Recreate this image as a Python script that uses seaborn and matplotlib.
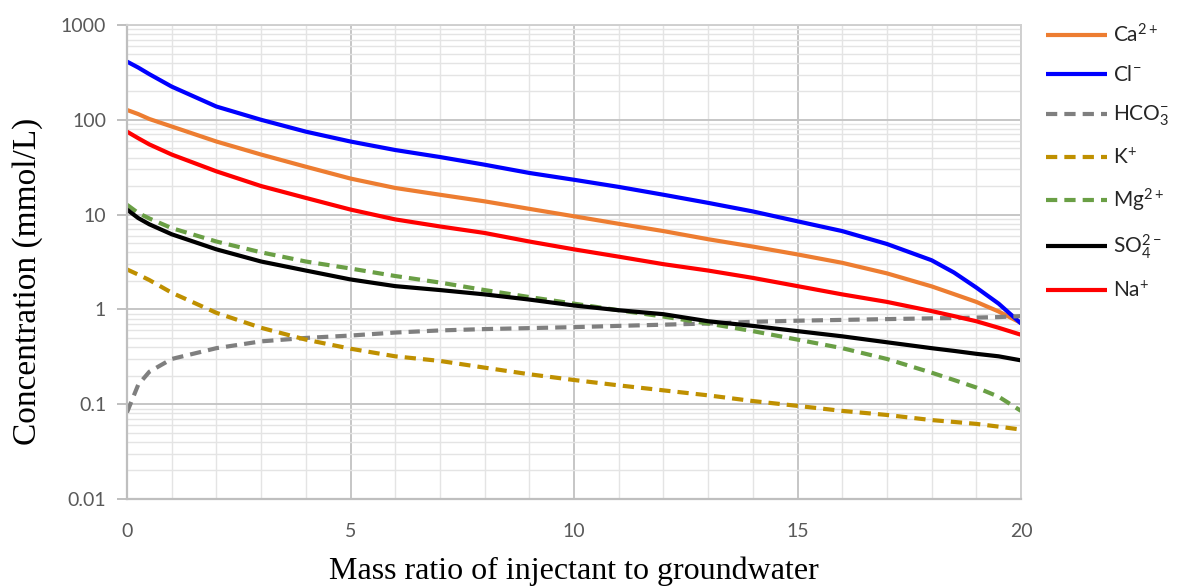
import numpy as np
import pandas as pd
import matplotlib
matplotlib.use("Agg")
import matplotlib.pyplot as plt
import matplotlib.ticker as mticker
import seaborn as sns

# ---- data ----
mass_ratio = [0, 0.25, 0.5, 1, 2, 3, 4, 5, 6, 7, 8, 9, 10, 11, 12, 13, 14, 15, 16, 17, 18, 18.5, 19, 19.5, 20]
ca = [127, 115, 102, 85, 59, 43, 32, 24, 19.1, 16.2, 13.8, 11.5, 9.6, 8.0, 6.7, 5.5, 4.6, 3.8, 3.1, 2.4, 1.75, 1.45, 1.2, 0.95, 0.72]
cl = [411, 356, 303, 224, 138, 100, 75, 59, 48, 40.5, 33.6, 27.5, 23.3, 19.6, 16.2, 13.3, 10.8, 8.5, 6.7, 4.9, 3.3, 2.45, 1.7, 1.15, 0.71]
hco3 = [0.082, 0.16, 0.22, 0.30, 0.39, 0.46, 0.50, 0.53, 0.57, 0.60, 0.62, 0.635, 0.65, 0.67, 0.69, 0.71, 0.74, 0.76, 0.775, 0.79, 0.805, 0.81, 0.82, 0.83, 0.85]
k = [2.64, 2.33, 2.04, 1.5, 0.92, 0.64, 0.48, 0.385, 0.32, 0.286, 0.243, 0.207, 0.18, 0.158, 0.14, 0.124, 0.108, 0.096, 0.085, 0.077, 0.068, 0.065, 0.062, 0.058, 0.054]
mg = [12.7, 10.4, 9.1, 7.2, 5.2, 4.0, 3.2, 2.7, 2.25, 1.92, 1.6, 1.35, 1.15, 0.98, 0.84, 0.71, 0.59, 0.48, 0.39, 0.30, 0.215, 0.18, 0.15, 0.12, 0.085]
so4 = [11.3, 9.2, 7.9, 6.2, 4.3, 3.2, 2.57, 2.07, 1.76, 1.6, 1.44, 1.27, 1.1, 0.98, 0.89, 0.75, 0.67, 0.59, 0.52, 0.45, 0.39, 0.365, 0.34, 0.32, 0.29]
na = [75, 64, 55, 43, 28.6, 20, 15, 11.3, 8.9, 7.5, 6.4, 5.2, 4.3, 3.6, 3.0, 2.57, 2.15, 1.76, 1.44, 1.2, 0.96, 0.85, 0.75, 0.64, 0.54]

series_names = ["Ca", "Cl", "HCO3", "K", "Mg", "SO4", "Na"]
series_labels = [r"Ca$^{\mathregular{2+}}$", r"Cl$^{\mathregular{-}}$", r"HCO$_{\mathregular{3}}^{\mathregular{-}}$",
                 r"K$^{\mathregular{+}}$", r"Mg$^{\mathregular{2+}}$", r"SO$_{\mathregular{4}}^{\mathregular{2-}}$",
                 r"Na$^{\mathregular{+}}$"]
series_values = [ca, cl, hco3, k, mg, so4, na]
series_colors = ["#ED7D31", "#0000FF", "#7F7F7F", "#BF9000", "#6A9F45", "#000000", "#FF0000"]
series_dashed = [False, False, True, True, True, False, False]

x_ticks = [0, 5, 10, 15, 20]
y_ticks = [0.01, 0.1, 1, 10, 100, 1000]

# ---- style ----
sns.set_theme(style="whitegrid")
plt.rcParams["font.family"] = ["Lato", "DejaVu Sans"]
plt.rcParams["mathtext.fontset"] = "custom"
plt.rcParams["mathtext.rm"] = "Lato"
plt.rcParams["mathtext.it"] = "Lato:italic"
plt.rcParams["mathtext.bf"] = "Lato:bold"

fig = plt.figure(figsize=(11.82, 5.88), dpi=100)
ax = fig.add_axes([127 / 1182, 1 - 499 / 588, (1021 - 127) / 1182, (499 - 25) / 588])

df = pd.DataFrame({"x": mass_ratio})
for name, vals in zip(series_names, series_values):
    df[name] = vals

handles = []
for name, lab, col, dashed in zip(series_names, series_labels, series_colors, series_dashed):
    sns.lineplot(data=df, x="x", y=name, ax=ax, color=col, linewidth=3.0, label=lab)
    ln = ax.lines[-1]
    if dashed:
        ln.set_dashes((2.7, 1.7))
        ln.set_dash_capstyle("butt")
    ln.set_solid_capstyle("butt")
    ln.set_solid_joinstyle("round")
    handles.append(ln)

ax.set_yscale("log")
ax.set_xlim(0, 20)
ax.set_ylim(0.01, 1000)
ax.set_xticks(x_ticks)
ax.set_yticks(y_ticks)
ax.yaxis.set_major_formatter(mticker.FuncFormatter(lambda v, p: f"{v:g}"))
ax.yaxis.set_minor_locator(mticker.LogLocator(base=10, subs=np.arange(2, 10)))
ax.yaxis.set_minor_formatter(mticker.NullFormatter())
ax.xaxis.set_minor_locator(mticker.MultipleLocator(1))

ax.grid(which="major", color="#c6c6c6", linewidth=1.4)
ax.grid(which="minor", color="#e4e4e4", linewidth=1.0)
ax.set_axisbelow(True)

for s in ["left", "bottom"]:
    ax.spines[s].set_color("#bfbfbf")
    ax.spines[s].set_linewidth(1.6)
for s in ["top", "right"]:
    ax.spines[s].set_color("#d0d0d0")
    ax.spines[s].set_linewidth(1.4)

ax.tick_params(axis="y", which="major", direction="out", length=7, width=1.4, color="#bfbfbf",
               labelsize=14, labelcolor="#595959", pad=8, left=True)
ax.tick_params(axis="y", which="minor", length=0)
ax.tick_params(axis="x", which="both", length=0, labelsize=14, labelcolor="#595959", pad=17)

serif = ["Liberation Serif", "DejaVu Serif"]
ax.set_xlabel("Mass ratio of injectant to groundwater", fontsize=23, family=serif, color="black")
ax.set_ylabel("Concentration (mmol/L)", fontsize=24, family=serif, color="black")
ax.xaxis.set_label_coords(0.5, -0.122)
ax.yaxis.set_label_coords(-0.094, 0.46)

leg = ax.legend(handles=handles, labels=series_labels, loc="upper left",
                bbox_to_anchor=(1040 / 1182, 1 - 17 / 588), bbox_transform=fig.transFigure,
                frameon=False, fontsize=15, handlelength=2.9, handletextpad=0.3,
                labelspacing=0.9, borderaxespad=0, borderpad=0.3)

fig.savefig("out.png", dpi=100)
